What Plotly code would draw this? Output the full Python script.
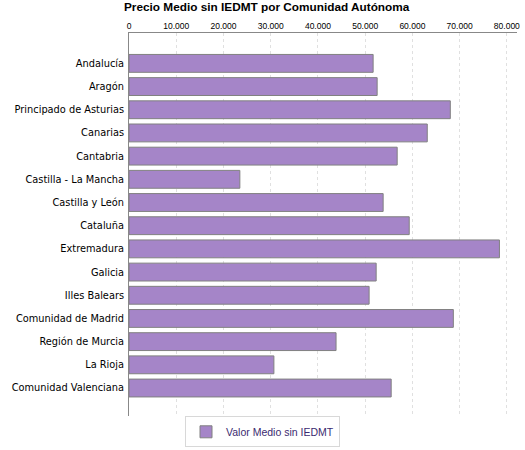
import plotly.graph_objects as go

comunidades = [
    "Andalucía", "Aragón", "Principado de Asturias", "Canarias", "Cantabria",
    "Castilla - La Mancha", "Castilla y León", "Cataluña", "Extremadura",
    "Galicia", "Illes Balears", "Comunidad de Madrid", "Región de Murcia",
    "La Rioja", "Comunidad Valenciana",
]
valor_medio = [
    51690, 52540, 68030, 63150, 56780,
    23470, 53810, 59330, 78430,
    52330, 50840, 68670, 43840,
    30680, 55510,
]
x_ticks = [0, 10000, 20000, 30000, 40000, 50000, 60000, 70000, 80000]

fig = go.Figure()
fig.add_trace(
    go.Bar(
        name="Valor Medio sin IEDMT",
        x=valor_medio,
        y=comunidades,
        orientation="h",
        width=0.77,
        marker=dict(color="#a585c8", line=dict(color="#808080", width=1)),
    )
)

fig.update_layout(
    width=525,
    height=450,
    margin=dict(l=129, r=8, t=33, b=27),
    plot_bgcolor="white",
    paper_bgcolor="white",
    separators=",.",
    font=dict(family="DejaVu Sans", size=9.8, color="black"),
    title=dict(
        text="<b>Precio Medio sin IEDMT por Comunidad Autónoma</b>",
        font=dict(family="Liberation Sans", size=11.8, color="black"),
        xref="container", x=124 / 525, xanchor="left",
        yref="container", y=0.993, yanchor="top",
    ),
    showlegend=True,
    legend=dict(
        orientation="h",
        xref="container", x=0.5, xanchor="center",
        yref="container", y=0.006, yanchor="bottom",
        bordercolor="#d8d8d8", borderwidth=1,
        itemwidth=30,
        font=dict(family="Liberation Sans", size=10.5, color="#3b2a70"),
    ),
    xaxis=dict(
        side="top",
        range=[0, 82150],
        tickvals=x_ticks,
        tickformat=",d",
        showgrid=True,
        gridcolor="#e0e0e0",
        griddash="3px,3px",
        showline=True,
        linecolor="#888888",
        zeroline=False,
        ticks="",
        automargin=False,
        tickfont=dict(family="Liberation Sans", size=8.5),
    ),
    yaxis=dict(
        categoryorder="array",
        categoryarray=comunidades,
        range=[15.22, -1.31],
        showgrid=False,
        showline=True,
        linecolor="#888888",
        ticks="",
        automargin=False,
        ticklabelstandoff=2,
    ),
)

# the page has a default body margin; drop it so the figure sits at 0,0
fig.write_html(
    "out.html",
    config={"displayModeBar": False},
    post_script="document.body.style.margin='0';",
)
